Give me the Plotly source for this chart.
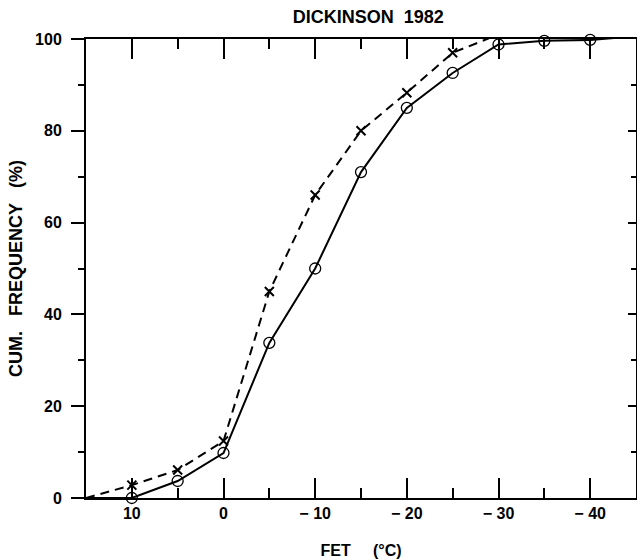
import plotly.graph_objects as go

# Data
fet_circles = [15, 10, 5, 0, -5, -10, -15, -20, -25, -30, -35, -40, -45]
freq_circles = [0, 0, 3.7, 9.8, 33.8, 50, 71, 85, 92.6, 98.8, 99.6, 99.8, 100.6]
circle_marked = [False] + [True] * 12

fet_crosses = [15, 10, 5, 0, -5, -10, -15, -20, -25, -30, -45]
freq_crosses = [0, 2.8, 6.1, 12.4, 45, 66, 80, 88.3, 97, 101, 101]
cross_marked = [False] + [True] * 9 + [False]

x_tickvals = [10, 0, -10, -20, -30, -40]
x_ticktext = ["10", "0", "\u2212 10", "\u2212 20", "\u2212 30", "\u2212 40"]
x_minorvals = [5, -5, -15, -25, -35]
y_tickvals = [0, 20, 40, 60, 80, 100]
y_minorvals = [10, 30, 50, 70, 90]

FONT = "Liberation Sans, Arial, sans-serif"
SP = "\u00a0"

fig = go.Figure()

fig.add_trace(go.Scatter(
    x=fet_crosses, y=freq_crosses, mode="lines",
    line=dict(color="black", width=2, dash="9px,6px"),
    showlegend=False, cliponaxis=False, hoverinfo="skip"))
fig.add_trace(go.Scatter(
    x=[x for x, m in zip(fet_crosses, cross_marked) if m],
    y=[y for y, m in zip(freq_crosses, cross_marked) if m],
    mode="markers",
    marker=dict(symbol="x-thin", size=9, color="black",
                line=dict(color="black", width=2)),
    showlegend=False, cliponaxis=False))

fig.add_trace(go.Scatter(
    x=fet_circles, y=freq_circles, mode="lines",
    line=dict(color="black", width=2),
    showlegend=False, cliponaxis=False, hoverinfo="skip"))
fig.add_trace(go.Scatter(
    x=[x for x, m in zip(fet_circles, circle_marked) if m],
    y=[y for y, m in zip(freq_circles, circle_marked) if m],
    mode="markers",
    marker=dict(symbol="circle-open", size=11, color="black",
                line=dict(color="black", width=1.3)),
    showlegend=False, cliponaxis=False))

# invisible trace anchoring the right-hand axis
fig.add_trace(go.Scatter(x=[0], y=[0], yaxis="y2",
                         mode="markers", marker=dict(opacity=0),
                         showlegend=False, hoverinfo="skip"))

fig.update_layout(
    width=637, height=560,
    margin=dict(l=86, r=1, t=39, b=62, autoexpand=False),
    paper_bgcolor="white", plot_bgcolor="white",
    font=dict(family=FONT, color="black", size=14),
    title=dict(text="<b>DICKINSON" + SP * 2 + "1982</b>", x=0.578, xanchor="center",
               xref="container", y=1 - 17 / 560, yanchor="middle", yref="container",
               font=dict(size=18)),
    xaxis=dict(
        range=[15, -45], showgrid=False, zeroline=False, automargin=False,
        showline=True, linecolor="black", linewidth=2, mirror="ticks",
        tickmode="array", tickvals=x_tickvals, ticktext=x_ticktext,
        ticks="inside", ticklen=20, tickwidth=2, tickcolor="black",
        minor=dict(tickmode="array", tickvals=x_minorvals,
                   ticks="inside", ticklen=10, tickwidth=2, tickcolor="black"),
        tickfont=dict(size=16, family=FONT, weight="bold"),
        title=dict(text="<b>FET" + SP * 5 + "(°C)</b>", font=dict(size=16), standoff=24),
    ),
    yaxis=dict(
        range=[0, 100], showgrid=False, zeroline=False, automargin=False,
        showline=True, linecolor="black", linewidth=2,
        tickmode="array", tickvals=y_tickvals,
        ticks="outside", ticklen=13, tickwidth=2, tickcolor="black",
        minor=dict(tickmode="array", tickvals=y_minorvals,
                   ticks="outside", ticklen=6, tickwidth=2, tickcolor="black"),
        tickfont=dict(size=16, family=FONT, weight="bold"),
        ticklabelstandoff=6,
        title=dict(text="<b>CUM." + SP * 3 + "FREQUENCY" + SP * 3 + "(%)</b>",
                   font=dict(size=18), standoff=8),
    ),
    yaxis2=dict(
        range=[0, 100], overlaying="y", side="right", anchor="x", automargin=False,
        showgrid=False, zeroline=False, showticklabels=False,
        showline=True, linecolor="black", linewidth=2,
        tickmode="array", tickvals=y_tickvals,
        ticks="inside", ticklen=8, tickwidth=2, tickcolor="black",
        minor=dict(tickmode="array", tickvals=y_minorvals,
                   ticks="inside", ticklen=5, tickwidth=2, tickcolor="black"),
    ),
)

fig.write_html("out.html",
               config={"displayModeBar": False, "staticPlot": True},
               post_script="document.body.style.margin='0px';"
                           "document.body.style.overflow='hidden';")
